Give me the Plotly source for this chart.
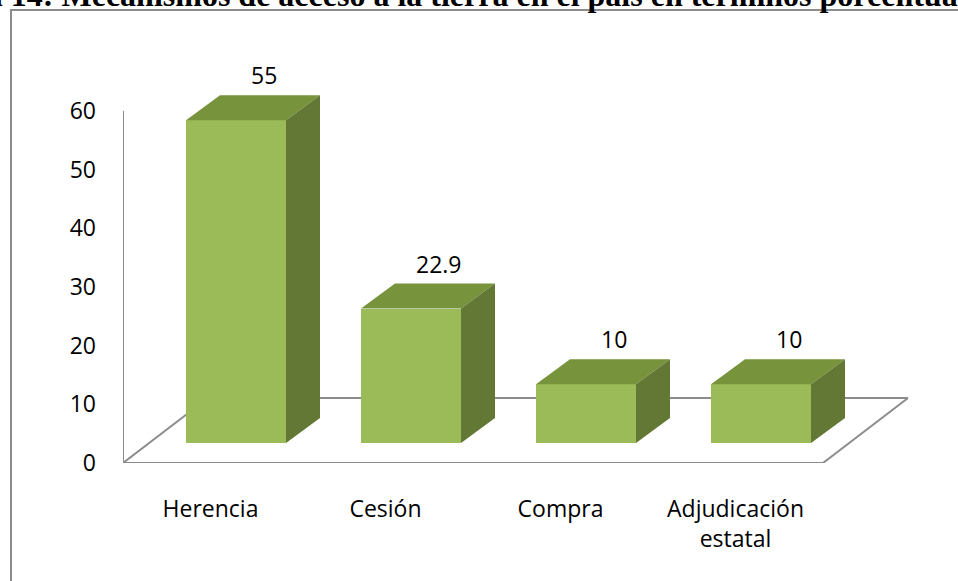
import plotly.graph_objects as go

# ---- data ----
categories = ["Herencia", "Cesión", "Compra", "Adjudicación<br>estatal"]
values = [55, 22.9, 10, 10]
value_labels = ["55", "22.9", "10", "10"]
y_ticks = [0, 10, 20, 30, 40, 50, 60]
title_text = "Gráfica 14: Mecanismos de acceso a la tierra en el país en términos porcentuales"

# ---- geometry (axis units) ----
W, H = 958, 581
ML, MR, MT, MB = 123, 0, 0, 118
PX_X = 175.0   # px per category
PX_Y = 5.87    # px per value unit
plot_w = W - ML - MR
plot_h = H - MT - MB
x_range = [-0.5, -0.5 + plot_w / PX_X]
y_range = [0, plot_h / PX_Y]

bar_w = 100 / PX_X
bar_dx, bar_dy = 25.5 / PX_X, 20 / PX_Y      # bar front offset from front plane
dep_dx, dep_dy = 34 / PX_X, 25 / PX_Y        # bar depth
fl_dx, fl_dy = 85 / PX_X, 65 / PX_Y          # floor depth
label_dx = 53 / PX_X

FRONT = "#9BBB59"
TOP = "#77933C"
SIDE = "#637835"
AXIS = "#8C8C8C"
FONT = "Open Sans"

xs = list(range(len(categories)))

fig = go.Figure()

# front faces
fig.add_trace(go.Bar(
    x=xs, y=values, base=bar_dy, width=bar_w, offset=bar_dx - bar_w / 2,
    marker=dict(color=FRONT, line=dict(width=0)), hoverinfo="skip", showlegend=False,
))

# top and side faces
for i, v in enumerate(values):
    x0 = i + bar_dx - bar_w / 2
    x1 = x0 + bar_w
    b = bar_dy
    t = bar_dy + v
    fig.add_trace(go.Scatter(
        x=[x0, x1, x1 + dep_dx, x0 + dep_dx, x0],
        y=[t, t, t + dep_dy, t + dep_dy, t],
        fill="toself", fillcolor=TOP, mode="lines", line=dict(width=0, color=TOP),
        hoverinfo="skip", showlegend=False,
    ))
    fig.add_trace(go.Scatter(
        x=[x1, x1 + dep_dx, x1 + dep_dx, x1, x1],
        y=[b, b + dep_dy, t + dep_dy, t, b],
        fill="toself", fillcolor=SIDE, mode="lines", line=dict(width=0, color=SIDE),
        hoverinfo="skip", showlegend=False,
    ))

# value labels
annotations = []
for i, (v, lab) in enumerate(zip(values, value_labels)):
    annotations.append(dict(
        x=i + label_dx, y=bar_dy + v + dep_dy, xref="x", yref="y",
        text=lab, showarrow=False, yanchor="middle", yshift=20,
        font=dict(family=FONT, size=23, color="#000000"),
    ))

# title (partially cut off at top like the reference)
annotations.append(dict(
    x=(-104 - ML) / plot_w, y=1 - 15 / plot_h, xref="paper", yref="paper",
    xanchor="left", yanchor="bottom", showarrow=False,
    text="<b>" + title_text + "</b>",
    font=dict(family="Liberation Serif", size=32, color="#000000"),
))

xl, xr = x_range[0], len(categories) - 0.5
shapes = [
    # floor
    dict(type="line", xref="x", yref="y", x0=xl, y0=0, x1=xr, y1=0,
         line=dict(color=AXIS, width=2), layer="below"),
    dict(type="line", xref="x", yref="y", x0=xl, y0=0, x1=xl + fl_dx, y1=fl_dy,
         line=dict(color=AXIS, width=2), layer="below"),
    dict(type="line", xref="x", yref="y", x0=xr, y0=0, x1=xr + fl_dx, y1=fl_dy,
         line=dict(color=AXIS, width=2), layer="below"),
    dict(type="line", xref="x", yref="y", x0=xl + fl_dx, y0=fl_dy, x1=xr + fl_dx, y1=fl_dy,
         line=dict(color=AXIS, width=2), layer="below"),
    # value axis
    dict(type="line", xref="x", yref="y", x0=xl, y0=0, x1=xl, y1=max(y_ticks),
         line=dict(color=AXIS, width=2), layer="below"),
    # outer chart border
    dict(type="rect", xref="paper", yref="paper",
         x0=(11 - ML) / plot_w, x1=1.05, y0=-0.6, y1=1 - 10 / plot_h,
         line=dict(color=AXIS, width=2), fillcolor="rgba(0,0,0,0)", layer="below"),
]

fig.update_layout(
    width=W, height=H,
    margin=dict(l=ML, r=MR, t=MT, b=MB, pad=0),
    paper_bgcolor="white", plot_bgcolor="white",
    showlegend=False,
    annotations=annotations,
    shapes=shapes,
    xaxis=dict(range=x_range, tickvals=xs, ticktext=categories, showgrid=False,
               zeroline=False, showline=False, ticks="", ticklabelstandoff=30,
               tickfont=dict(family=FONT, size=23, color="#000000"), fixedrange=True),
    yaxis=dict(range=y_range, tickvals=y_ticks, showgrid=False, zeroline=False,
               showline=False, ticks="", ticklabelstandoff=26,
               tickfont=dict(family=FONT, size=23, color="#000000"), fixedrange=True),
    bargap=0,
)

fig.write_html("out.html", config={"displayModeBar": False})
